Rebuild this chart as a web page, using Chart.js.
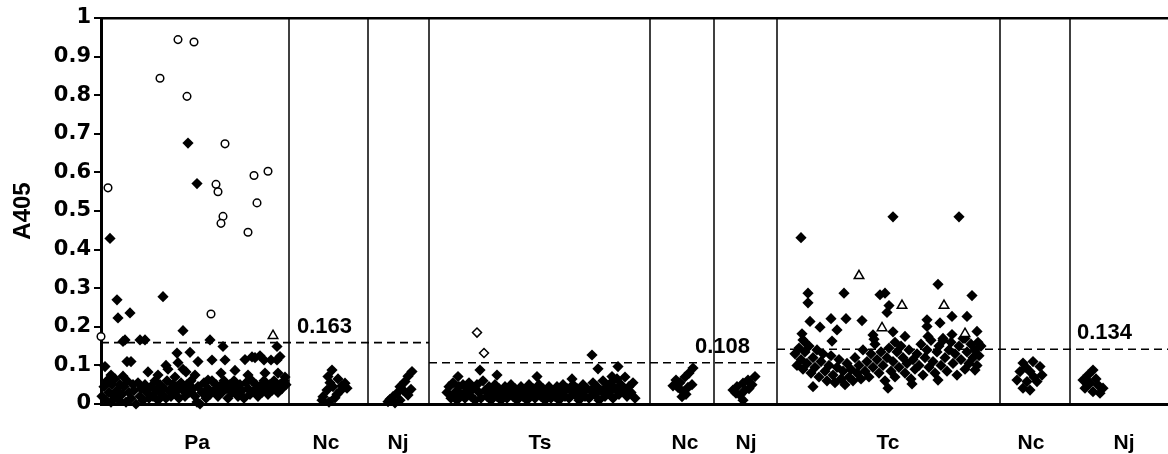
<!DOCTYPE html>
<html><head><meta charset="utf-8">
<script src="https://cdn.jsdelivr.net/npm/chart.js@4"></script>
<style>html,body{margin:0;padding:0;background:#fff}</style>
</head><body>
<canvas id="c" width="1168" height="454"></canvas>
<script>
// ---------- data ----------
const yTitle = 'A405';
const yMin = 0, yMax = 1, yStep = 0.1;
const xMin = 0, xMax = 1067;               // sample position along the run
const groupNames    = ['Pa','Nc','Nj','Ts','Nc','Nj','Tc','Nc','Nj'];
const groupLabelPos = [96, 225, 297, 439, 584, 645, 787, 930, 1023];
const groupBounds   = [188, 267, 328, 549, 613, 676, 899, 969];
const thresholdLevels = [0.159, 0.107, 0.142];
const thresholdFrom   = [0, 328, 676];
const thresholdTo     = [328, 676, 1067];
const thresholdTexts  = ['0.163', '0.108', '0.134'];
const thresholdTextPos = [196, 594, 976];

// [position, A405]
const paFilled = [
 [9,0.429],[87,0.676],[96,0.571],[16,0.270],[17,0.223],[29,0.236],[62,0.278],[82,0.190],
 [24,0.166],[22,0.162],[39,0.166],[44,0.166],[109,0.166],[122,0.149],[176,0.149],
 [26,0.11],[30,0.11],[4,0.097],[65,0.10],[76,0.132],[89,0.134],[111,0.114],[124,0.114],
 [151,0.122],[159,0.125],[163,0.114],[176,0.114],[77,0.107],[97,0.11],[67,0.09],[82,0.09],
 [144,0.115],[154,0.12],[170,0.114],[179,0.123],
 [10,0.075],[22,0.072],[47,0.083],[57,0.075],[74,0.07],[85,0.083],[94,0.075],[107,0.062],
 [120,0.08],[134,0.087],[147,0.075],[164,0.08],[177,0.08],[184,0.07],
 [1,0.02],[3,0.045],[5,0.01],[6,0.06],[8,0.03],[10,0.005],[11,0.05],[13,0.02],[14,0.065],
 [16,0.035],[18,0.01],[19,0.05],[21,0.025],[23,0.045],[25,0.005],[26,0.06],[28,0.03],
 [30,0.015],[32,0.05],[33,0.035],[35,0.0],[37,0.055],[39,0.02],[40,0.04],[42,0.01],
 [44,0.05],[46,0.03],[48,0.015],[50,0.045],[52,0.02],[54,0.06],[55,0.035],[57,0.01],
 [59,0.05],[61,0.025],[63,0.04],[65,0.015],[66,0.06],[68,0.035],[70,0.02],[72,0.05],
 [74,0.03],[76,0.045],[78,0.015],[80,0.055],[82,0.035],[84,0.02],[86,0.05],[88,0.03],
 [90,0.06],[92,0.04],[94,0.02],[96,0.005],[97,0.045],[99,0.0],[101,0.03],[103,0.055],
 [105,0.015],[107,0.04],[109,0.025],[111,0.06],[113,0.035],[115,0.05],[117,0.02],
 [119,0.045],[121,0.03],[123,0.06],[125,0.04],[127,0.015],[129,0.05],[131,0.03],
 [133,0.06],[135,0.04],[137,0.02],[139,0.05],[141,0.035],[143,0.015],[145,0.055],
 [147,0.04],[149,0.025],[151,0.06],[153,0.035],[155,0.05],[157,0.02],[159,0.045],
 [161,0.03],[163,0.06],[165,0.04],[167,0.025],[169,0.05],[171,0.035],[173,0.06],
 [175,0.045],[177,0.03],[179,0.05],[181,0.04],[183,0.06],[185,0.05]
];
const paCircles = [
 [7,0.560],[77,0.944],[93,0.938],[59,0.844],[86,0.797],[124,0.674],[115,0.569],[117,0.550],
 [122,0.486],[120,0.468],[153,0.592],[167,0.603],[156,0.521],[147,0.445],[0,0.175],[110,0.233]
];
const paTriangles = [[172,0.177]];
const nc1 = [[231,0.088],[227,0.071],[237,0.065],[244,0.054],[232,0.045],[226,0.036],[239,0.033],
 [222,0.019],[234,0.016],[246,0.041],[221,0.01],[229,0.055],[241,0.047],[236,0.025],[228,0.005]];
const nj1 = [[311,0.084],[307,0.072],[304,0.058],[299,0.045],[302,0.036],[296,0.028],[292,0.019],
 [289,0.012],[307,0.023],[287,0.006],[299,0.01],[294,0.003],[310,0.038]];
const tsFilled = [
 [491,0.127],[497,0.091],[517,0.097],[511,0.071],[471,0.065],[396,0.075],[379,0.088],[357,0.071],[436,0.071],
 [346,0.03],[348,0.045],[350,0.015],[352,0.055],[354,0.03],[356,0.01],[358,0.045],[360,0.025],
 [362,0.05],[364,0.015],[366,0.035],[368,0.055],[370,0.02],[372,0.04],[374,0.01],[376,0.05],
 [378,0.03],[380,0.015],[382,0.06],[384,0.035],[386,0.02],[388,0.045],[390,0.01],[392,0.03],
 [394,0.05],[396,0.02],[398,0.04],[400,0.01],[402,0.03],[404,0.045],[406,0.015],[408,0.035],
 [410,0.05],[412,0.02],[414,0.04],[416,0.01],[418,0.03],[420,0.045],[422,0.02],[424,0.035],
 [426,0.01],[428,0.05],[430,0.025],[432,0.04],[434,0.015],[436,0.035],[438,0.05],[440,0.02],
 [442,0.04],[444,0.01],[446,0.03],[448,0.045],[450,0.015],[452,0.035],[454,0.02],[456,0.045],
 [458,0.01],[460,0.03],[462,0.05],[464,0.02],[466,0.04],[468,0.015],[470,0.035],[472,0.05],
 [474,0.025],[476,0.04],[478,0.01],[480,0.03],[482,0.05],[484,0.02],[486,0.04],[488,0.015],
 [490,0.035],[492,0.055],[494,0.025],[496,0.045],[498,0.01],[500,0.035],[502,0.06],[504,0.02],
 [506,0.045],[508,0.03],[510,0.055],[512,0.015],[514,0.04],[516,0.065],[518,0.025],[520,0.05],
 [522,0.035],[524,0.07],[526,0.02],[528,0.045],[530,0.03],[532,0.055],[534,0.015]
];
const tsOpenDiamonds = [[376,0.185],[383,0.132]];
const nc2 = [[592,0.093],[588,0.08],[584,0.07],[575,0.062],[572,0.047],[577,0.043],[582,0.032],
 [587,0.043],[591,0.05],[581,0.019],[579,0.055],[585,0.025]];
const nj2 = [[654,0.071],[647,0.062],[642,0.054],[636,0.045],[632,0.036],[639,0.023],[642,0.01],
 [651,0.05],[644,0.036],[635,0.028],[648,0.04]];
const tcFilled = [
 [700,0.431],[792,0.485],[858,0.485],[837,0.310],[707,0.287],[707,0.262],[743,0.287],[779,0.283],
 [784,0.287],[788,0.255],[786,0.237],[871,0.281],[709,0.214],[719,0.199],[730,0.221],[745,0.221],
 [761,0.216],[736,0.192],[826,0.218],[826,0.201],[839,0.21],[851,0.227],[866,0.227],[876,0.188],
 [701,0.182],[702,0.166],[731,0.163],[772,0.179],[792,0.187],[804,0.175],
 [704,0.16],[773,0.168],[794,0.16],[827,0.175],[842,0.165],[851,0.18],[864,0.17],[877,0.16],
 [712,0.045],[787,0.041],[811,0.052],[837,0.062],[874,0.088],
 [694,0.13],[696,0.10],[698,0.145],[700,0.115],[702,0.09],[704,0.135],[706,0.105],[708,0.15],
 [710,0.08],[712,0.12],[714,0.095],[716,0.14],[718,0.07],[720,0.11],[722,0.13],[724,0.085],
 [726,0.06],[728,0.1],[730,0.125],[732,0.075],[734,0.055],[736,0.095],[738,0.115],[740,0.065],
 [742,0.085],[744,0.05],[746,0.105],[748,0.07],[750,0.09],[752,0.06],[754,0.12],[756,0.08],
 [758,0.1],[760,0.065],[762,0.14],[764,0.085],[766,0.11],[768,0.07],[770,0.13],[772,0.095],
 [774,0.155],[776,0.115],[778,0.08],[780,0.135],[782,0.1],[784,0.06],[786,0.12],[788,0.145],
 [790,0.085],[792,0.11],[794,0.07],[796,0.135],[798,0.095],[800,0.15],[802,0.12],[804,0.08],
 [806,0.105],[808,0.14],[810,0.065],[812,0.115],[814,0.09],[816,0.13],[818,0.1],[820,0.155],
 [822,0.075],[824,0.12],[826,0.14],[828,0.095],[830,0.165],[832,0.11],[834,0.08],[836,0.135],
 [838,0.15],[840,0.1],[842,0.17],[844,0.12],[846,0.085],[848,0.14],[850,0.16],[852,0.105],
 [854,0.13],[856,0.075],[858,0.15],[860,0.115],[862,0.17],[864,0.09],[866,0.135],[868,0.105],
 [870,0.155],[872,0.12],[874,0.14],[876,0.1],[878,0.125],[880,0.15]
];
const tcTriangles = [[758,0.332],[801,0.255],[843,0.255],[781,0.197],[864,0.182]];
const nc3 = [[922,0.106],[932,0.11],[939,0.097],[919,0.084],[929,0.084],[941,0.075],[916,0.062],
 [926,0.058],[936,0.058],[922,0.041],[929,0.036],[933,0.07],[925,0.095]];
const nj3 = [[992,0.088],[987,0.075],[982,0.062],[989,0.054],[997,0.049],[1002,0.041],[984,0.041],
 [992,0.032],[999,0.028],[995,0.065],[987,0.05]];

// ---------- chart ----------
const pts = a => a.map(([x, y]) => ({x, y}));
const filled = [...paFilled, ...nc1, ...nj1, ...tsFilled, ...nc2, ...nj2, ...tcFilled, ...nc3, ...nj3];

const datasets = [
  {type:'scatter', data: pts(filled), pointStyle:'rectRot', pointRadius:5.6, backgroundColor:'#000', borderWidth:0, order:3, clip:false},
  {type:'scatter', data: pts(paCircles), pointStyle:'circle', pointRadius:3.8, backgroundColor:'#fff', borderColor:'#000', borderWidth:1.5, order:1, clip:false},
  {type:'scatter', data: pts([...paTriangles, ...tcTriangles]), pointStyle:'triangle', pointRadius:5.5, backgroundColor:'#fff', borderColor:'#000', borderWidth:1.5, order:1, clip:false},
  {type:'scatter', data: pts(tsOpenDiamonds), pointStyle:'rectRot', pointRadius:4.5, backgroundColor:'#fff', borderColor:'#000', borderWidth:1.5, order:1, clip:false}
];
groupBounds.forEach(b => datasets.push({type:'line', data:[{x:b,y:yMin},{x:b,y:yMax}], borderColor:'#000', borderWidth:1.5, pointRadius:0, order:5}));
thresholdLevels.forEach((t,i) => datasets.push({type:'line', data:[{x:thresholdFrom[i],y:t},{x:thresholdTo[i],y:t}], borderColor:'#000', borderWidth:1.6, borderDash:[8,5], pointRadius:0, order:4}));

const textPlugin = {
  id: 'texts',
  afterDraw(chart) {
    const {ctx, chartArea, scales: {x, y}} = chart;
    ctx.save();
    ctx.fillStyle = '#000';
    ctx.textBaseline = 'alphabetic';
    ctx.textAlign = 'center';
    ctx.font = 'bold 21px "Liberation Sans", Arial, sans-serif';
    groupNames.forEach((n, i) => ctx.fillText(n, x.getPixelForValue(groupLabelPos[i]), chartArea.bottom + 45));
    ctx.textAlign = 'left';
    ctx.font = 'bold 22px "Liberation Sans", Arial, sans-serif';
    thresholdTexts.forEach((t, i) => ctx.fillText(t, x.getPixelForValue(thresholdTextPos[i]), y.getPixelForValue(thresholdLevels[i]) - 10));
    ctx.translate(23, (chartArea.top + chartArea.bottom) / 2);
    ctx.rotate(-Math.PI / 2);
    ctx.textAlign = 'center';
    ctx.textBaseline = 'middle';
    ctx.font = 'bold 24px "Liberation Sans", Arial, sans-serif';
    ctx.fillText(yTitle, 0, 0);
    ctx.restore();
  }
};

new Chart(document.getElementById('c'), {
  data: {datasets},
  options: {
    responsive: false,
    animation: false,
    layout: {autoPadding: false, padding: {top: 18, right: 0, left: 0, bottom: 0}},
    plugins: {legend: {display: false}, tooltip: {enabled: false}},
    scales: {
      x: {type:'linear', position:'bottom', min:xMin, max:xMax,
          ticks:{display:false}, grid:{display:false},
          border:{display:true, color:'#000', width:3},
          afterFit: s => { s.height = 50; }},
      x2: {type:'linear', position:'top', min:xMin, max:xMax,
          ticks:{display:false}, grid:{display:false},
          border:{display:true, color:'#000', width:2.5},
          afterFit: s => { s.height = 0; }},
      y: {type:'linear', min:yMin, max:yMax,
          ticks:{stepSize:yStep, color:'#000', padding:3,
                 font:{family:'"DejaVu Sans", sans-serif', weight:'bold', size:21},
                 callback: v => (Math.abs(v) < 1e-9 ? '0' : Math.abs(v - 1) < 1e-9 ? '1' : v.toFixed(1))},
          grid:{drawOnChartArea:false, drawTicks:true, tickLength:7, color:'#000', lineWidth:2},
          border:{display:true, color:'#000', width:3},
          afterFit: s => { s.width = 101; }}
    }
  },
  plugins: [textPlugin]
});
</script>
</body></html>
